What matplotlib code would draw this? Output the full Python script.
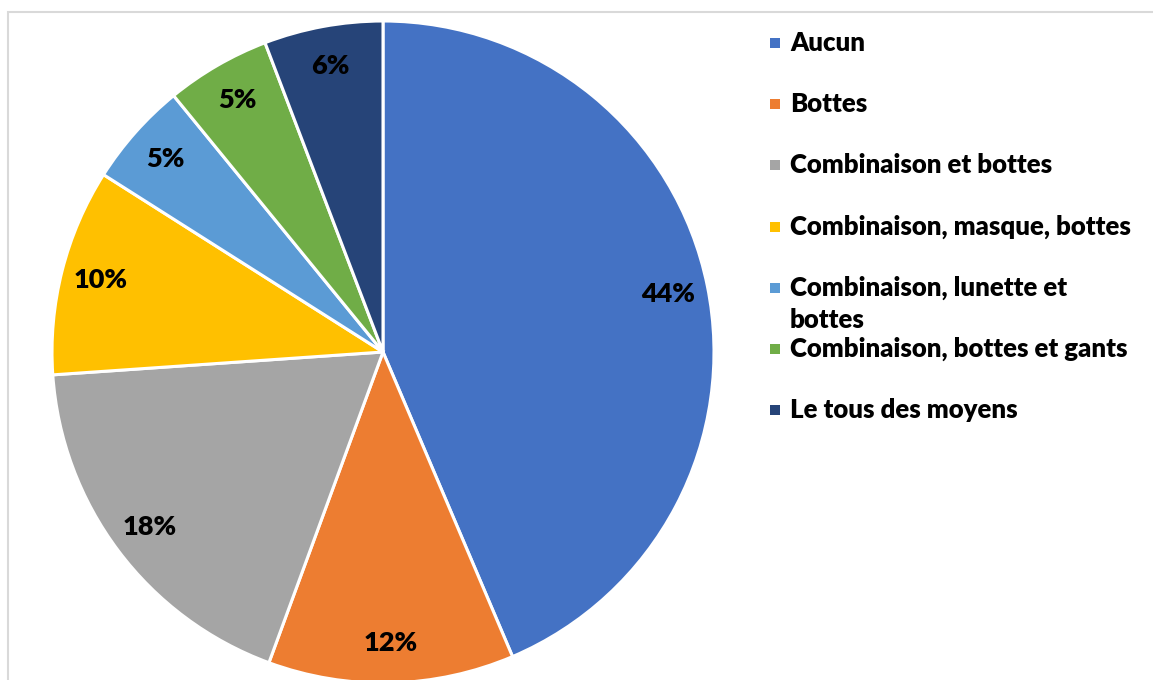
import matplotlib.pyplot as plt
from matplotlib.patches import Rectangle

labels = ['Aucun', 'Bottes', 'Combinaison et bottes', 'Combinaison, masque, bottes',
          'Combinaison, lunette et\nbottes', 'Combinaison, bottes et gants', 'Le tous des moyens']
values = [43.6, 12.0, 18.3, 10.1, 5.1, 5.1, 5.8]
colors = ['#4472C4', '#ED7D31', '#A5A5A5', '#FFC000', '#5B9BD5', '#70AD47', '#264478']

W, H = 1153, 680
fig = plt.figure(figsize=(W / 100, H / 100), dpi=100)
plt.rcParams['font.family'] = ['Lato', 'DejaVu Sans']

# light grey frame, partly outside the picture
fig.patches.append(Rectangle((7.5 / W, -0.1), 1.2, (H - 11.5) / H + 0.1, transform=fig.transFigure,
                             fill=False, edgecolor='#D9D9D9', linewidth=1.5))

# pie
cx, cy, r = 383, 352, 331
ax = fig.add_axes([(cx - r) / W, (H - cy - r) / H, 2 * r / W, 2 * r / H])
wedges, texts, autotexts = ax.pie(values, colors=colors, startangle=90, counterclock=False,
                                  autopct='%.0f%%', pctdistance=0.88, radius=1,
                                  wedgeprops=dict(edgecolor='white', linewidth=2.2),
                                  textprops=dict(fontsize=19.5, fontweight='heavy', color='black'))
ax.set_xlim(-1, 1)
ax.set_ylim(-1, 1)
ax.axis('off')

# legend
y0 = 43
step = 61.2
for i, (lab, col) in enumerate(zip(labels, colors)):
    yc = y0 + i * step
    fig.patches.append(Rectangle((770 / W, (H - yc - 5) / H), 10 / W, 10 / H,
                                 transform=fig.transFigure, facecolor=col, edgecolor='none'))
    for j, line in enumerate(lab.split('\n')):
        fig.text(790 / W, (H - yc - 32 * j) / H, line, fontsize=18.5, fontweight='heavy',
                 va='center', ha='left')

fig.savefig('out.png', dpi=100)
